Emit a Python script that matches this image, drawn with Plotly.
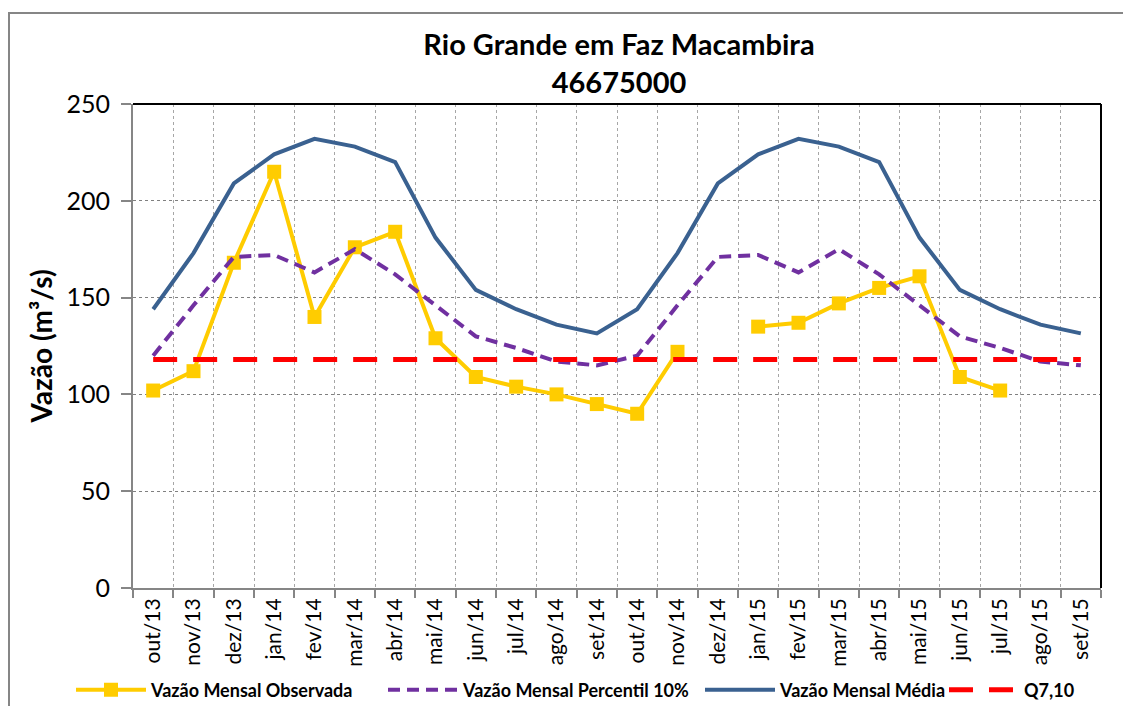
import plotly.graph_objects as go

months = ["out/13", "nov/13", "dez/13", "jan/14", "fev/14", "mar/14", "abr/14", "mai/14",
          "jun/14", "jul/14", "ago/14", "set/14", "out/14", "nov/14", "dez/14", "jan/15",
          "fev/15", "mar/15", "abr/15", "mai/15", "jun/15", "jul/15", "ago/15", "set/15"]

observada = [102, 112, 168, 215, 140, 176, 184, 129, 109, 104, 100, 95,
             90, 122, None, 135, 137, 147, 155, 161, 109, 102, None, None]

percentil10 = [120, 146, 171, 172, 163, 175, 162, 146, 130, 124, 117, 115,
               120, 146, 171, 172, 163, 175, 162, 146, 130, 124, 117, 115]

media = [144, 173, 209, 224, 232, 228, 220, 181, 154, 144, 136, 131.5,
         144, 173, 209, 224, 232, 228, 220, 181, 154, 144, 136, 131.5]

q710 = [118] * len(months)

OFF = 8  # page body margin
W, H = 1131 - 2 * OFF, 714 - 2 * OFF
L, R, T, B = 133, 1101, 104, 588  # screen coords of plot area
FONT = "Lato"

fig = go.Figure()
fig.add_trace(go.Scatter(x=months, y=observada, name="<b>Vazão Mensal Observada</b>",
                         mode="lines+markers", connectgaps=False,
                         line=dict(color="#FFCC00", width=4),
                         marker=dict(symbol="square", size=14, color="#FFCC00"),
                         legend="legend"))
fig.add_trace(go.Scatter(x=months, y=percentil10, name="<b>Vazão Mensal Percentil 10%</b>",
                         mode="lines", line=dict(color="#7030A0", width=4, dash="12px,7px"),
                         legend="legend2"))
fig.add_trace(go.Scatter(x=months, y=media, name="<b>Vazão Mensal Média</b>",
                         mode="lines", line=dict(color="#3A6190", width=4),
                         legend="legend3"))
fig.add_trace(go.Scatter(x=months, y=q710, name="<b>Q7,10</b>",
                         mode="lines", line=dict(color="#FF0000", width=5, dash="24px,16px"),
                         legend="legend4"))

def px2x(p):
    return (p - L) / (R - L)

def py2y(p):
    return (B - p) / (B - T)

legfont = dict(family=FONT, size=18, color="#000000")
ly = py2y(690)
def leg(xpx):
    return dict(x=px2x(xpx), y=ly, xanchor="left", yanchor="middle", orientation="h",
                font=legfont, bgcolor="rgba(0,0,0,0)", itemwidth=70, borderwidth=0)

fig.update_layout(
    width=W, height=H,
    margin=dict(l=L - OFF, r=W - (R - OFF), t=T - OFF, b=H - (B - OFF), autoexpand=False),
    paper_bgcolor="white", plot_bgcolor="white",
    title=dict(text="<b>Rio Grande em Faz Macambira<br>46675000</b>",
               x=px2x(619), xref="paper", xanchor="center",
               y=1 - (55 - OFF) / H, yanchor="middle",
               font=dict(family=FONT, size=29, color="#000000")),
    showlegend=True,
    legend=leg(71), legend2=leg(383), legend3=leg(700), legend4=leg(944),
    xaxis=dict(type="category", tickson="boundaries", tickangle=-90,
               showgrid=True, gridcolor="#A6A6A6", griddash="dot", gridwidth=1,
               showline=True, linecolor="#868686", linewidth=2,
               ticks="outside", ticklen=8, tickcolor="#868686", tickwidth=1.5,
               tickfont=dict(family=FONT, size=21, color="#000000"),
               range=[-0.5, len(months) - 0.5]),
    yaxis=dict(range=[0, 250], dtick=50, showgrid=True, gridcolor="#808080",
               griddash="dot", gridwidth=1, zeroline=False,
               showline=True, linecolor="#868686", linewidth=2,
               ticks="outside", ticklen=10, tickcolor="#868686", tickwidth=1.5,
               ticklabelstandoff=6,
               tickfont=dict(family=FONT, size=25, color="#000000"),
               title=dict(text="<b>Vazão (m³/s)</b>", standoff=6,
                          font=dict(family=FONT, size=28, color="#000000"))),
    shapes=[
        dict(type="line", xref="paper", yref="paper", x0=0, x1=1, y0=1, y1=1,
             line=dict(color="#000000", width=2)),
        dict(type="line", xref="paper", yref="paper", x0=1, x1=1, y0=0, y1=1,
             line=dict(color="#000000", width=2)),
        dict(type="rect", xref="paper", yref="paper",
             x0=px2x(9), x1=px2x(1145), y0=py2y(13), y1=py2y(730),
             line=dict(color="#868686", width=2), layer="below"),
    ],
)

fig.write_html("out.html")
